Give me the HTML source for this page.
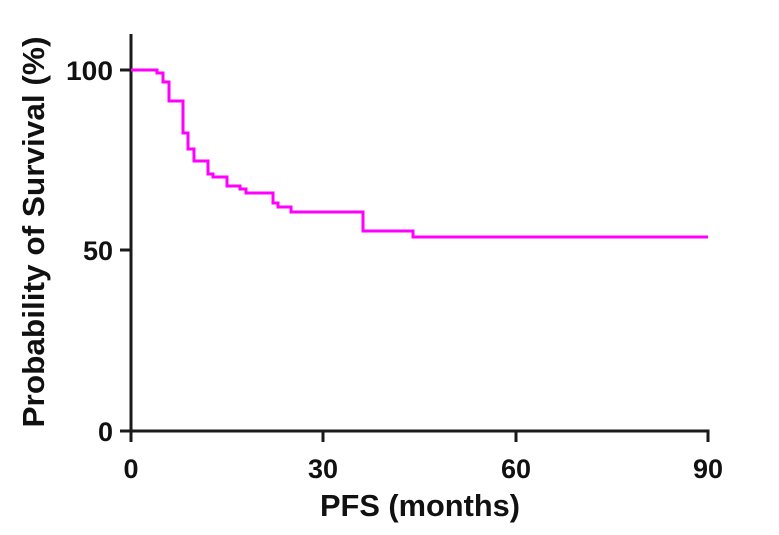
<!DOCTYPE html>
<html><head><meta charset="utf-8"><style>
html,body{margin:0;padding:0;background:#fff;width:779px;height:535px;overflow:hidden}
text{font-family:"Liberation Sans",Arial,sans-serif;font-weight:bold;fill:#111}
</style></head><body>
<svg width="779" height="535" viewBox="0 0 779 535" xmlns="http://www.w3.org/2000/svg">
<g stroke="#1a1a1a" stroke-width="3" fill="none">
<line x1="131" y1="34" x2="131" y2="431"/>
<line x1="129.5" y1="431" x2="709.5" y2="431"/>
<line x1="120" y1="70" x2="131" y2="70"/>
<line x1="120" y1="250" x2="131" y2="250"/>
<line x1="120" y1="431" x2="131" y2="431"/>
<line x1="131" y1="431" x2="131" y2="442"/>
<line x1="323" y1="431" x2="323" y2="442"/>
<line x1="516" y1="431" x2="516" y2="442"/>
<line x1="708" y1="431" x2="708" y2="442"/>
</g>
<path d="M131,70 H157 V73 H163 V82 H169 V101 H183 V133 H188 V149 H194 V161 H208 V174 H213 V177 H227 V186 H240 V189 H246 V193 H273 V203 H278 V207 H291 V212 H363 V231 H413 V237 H708" stroke="#ff00ff" stroke-width="3" fill="none"/>
<g font-size="27" text-anchor="end">
<text x="113" y="80" textLength="47" lengthAdjust="spacingAndGlyphs">100</text>
<text x="113" y="260">50</text>
<text x="113" y="441">0</text>
</g>
<g font-size="27" text-anchor="middle">
<text x="131" y="478">0</text>
<text x="323" y="478">30</text>
<text x="516" y="478">60</text>
<text x="708" y="478">90</text>
</g>
<text x="420" y="516" font-size="31" text-anchor="middle" textLength="200" lengthAdjust="spacingAndGlyphs">PFS (months)</text>
<text transform="translate(44,232) rotate(-90)" font-size="31" text-anchor="middle" textLength="391" lengthAdjust="spacingAndGlyphs">Probability of Survival (%)</text>
</svg>
</body></html>
